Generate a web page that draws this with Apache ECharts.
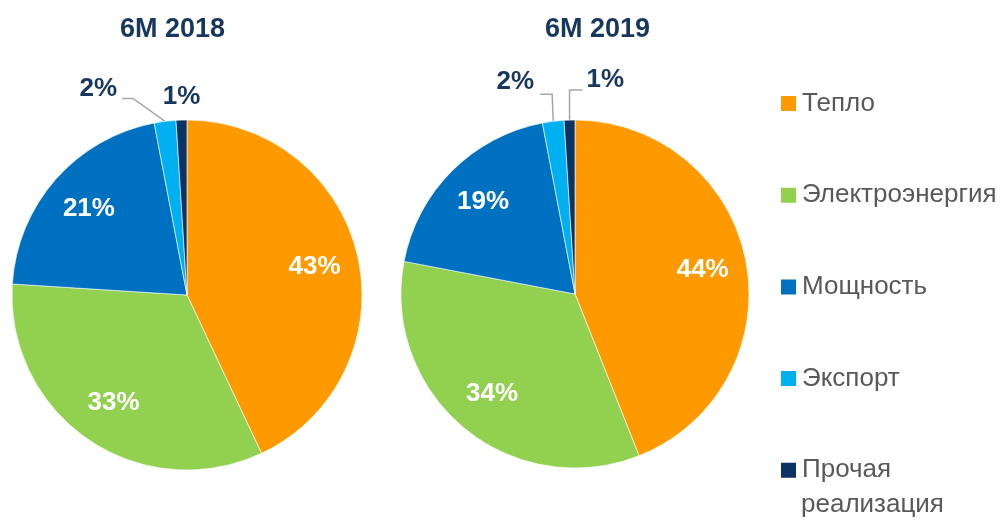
<!DOCTYPE html>
<html>
<head>
<meta charset="utf-8">
<script src="https://cdn.jsdelivr.net/npm/echarts@6/dist/echarts.min.js"></script>
<style>
html, body { margin: 0; padding: 0; background: #fff; }
#chart { width: 1004px; height: 523px; }
</style>
</head>
<body>
<div id="chart"></div>
<script>
const categories = ['Тепло', 'Электроэнергия', 'Мощность', 'Экспорт', 'Прочая\nреализация'];
const periods = ['6M 2018', '6M 2019'];
const share2018 = [43, 33, 21, 2, 1];
const share2019 = [44, 34, 19, 2, 1];

const colors = ['#FF9900', '#92D050', '#0070C0', '#00B0F0', '#0B3366'];
const NAVY = '#17375E';
const GREY = '#595959';
const FONT = "'Liberation Sans', Arial, sans-serif";

// pie geometry
const pies = [
  { center: [187, 295], radius: 175, title: 120 },
  { center: [575, 294], radius: 174, title: 545 }
];

// legend geometry
const LEG_LEFT = 779, LEG_TOP = 86, LEG_LINE = 35, LEG_GAP = 56.7;

// tiny slices: label offsets relative to the slice's edge point
const smallLabels = [
  {
    3: { line: [[-32, -23], [-43, -23]], text: [-48, -33], align: 'right' },
    4: { line: null, text: [0, -23], align: 'center' }
  },
  {
    3: { line: [[-1, -27], [-13, -27]], text: [-19, -40], align: 'right' },
    4: { line: [[0, -30], [13, -30]], text: [17, -40], align: 'left' }
  }
];

const labelFont = { fontSize: 26, fontWeight: 'bold', fontFamily: FONT };

function mainSeries (k, values) {
  const p = pies[k];
  return {
    type: 'pie',
    center: p.center,
    radius: p.radius,
    startAngle: 90,
    clockwise: true,
    avoidLabelOverlap: false,
    silent: true,
    itemStyle: { borderColor: '#fff', borderWidth: 0.6 },
    label: Object.assign({ position: 'outside', color: NAVY, formatter: '{c}%' }, labelFont),
    labelLine: { length: 20, length2: 10, lineStyle: { color: '#A6A6A6', width: 1.5 } },
    labelLayout: function (params) {
      const cfg = smallLabels[k][params.dataIndex];
      if (!cfg) return {};
      const o = params.labelLinePoints
        ? params.labelLinePoints[0]
        : [params.rect.x + params.rect.width / 2, params.rect.y];
      const res = {
        x: o[0] + cfg.text[0],
        y: o[1] + cfg.text[1],
        align: cfg.align,
        verticalAlign: 'middle'
      };
      if (cfg.line) {
        res.labelLinePoints = [
          [o[0], o[1]],
          [o[0] + cfg.line[0][0], o[1] + cfg.line[0][1]],
          [o[0] + cfg.line[1][0], o[1] + cfg.line[1][1]]
        ];
      }
      return res;
    },
    data: values.map((v, i) => ({
      name: categories[i],
      value: v,
      itemStyle: { color: colors[i] },
      label: { show: v < 5 },
      labelLine: { show: v < 5 && !!(smallLabels[k][i] && smallLabels[k][i].line) }
    }))
  };
}

// transparent ring on top, only to carry the inside labels further out
function labelRing (k, values) {
  const p = pies[k];
  return {
    type: 'pie',
    center: p.center,
    radius: [p.radius * 0.46, p.radius],
    startAngle: 90,
    clockwise: true,
    avoidLabelOverlap: false,
    silent: true,
    itemStyle: { color: 'rgba(0,0,0,0)' },
    label: Object.assign({ position: 'inside', color: '#fff', formatter: '{c}%' }, labelFont),
    labelLine: { show: false },
    data: values.map((v, i) => ({
      name: categories[i],
      value: v,
      label: { show: v >= 5 }
    }))
  };
}

// the legend shows only the first line of a wrapped name; the rest goes below
const lastIdx = categories.length - 1;
const wrapTail = categories[lastIdx].split('\n').slice(1).join('\n');

const chart = echarts.init(document.getElementById('chart'));
chart.setOption({
  animation: false,
  backgroundColor: '#fff',
  color: colors,
  title: periods.map((t, k) => ({
    text: t,
    left: pies[k].title,
    top: 16,
    padding: 0,
    textStyle: { fontSize: 27, fontWeight: 'bold', color: NAVY, fontFamily: FONT }
  })),
  legend: {
    orient: 'vertical',
    left: LEG_LEFT,
    top: LEG_TOP,
    padding: 0,
    itemWidth: 17,
    itemHeight: 17,
    itemGap: LEG_GAP,
    icon: 'rect',
    selectedMode: false,
    data: categories,
    formatter: name => name.split('\n')[0],
    textStyle: { fontSize: 26, color: GREY, fontFamily: FONT, lineHeight: LEG_LINE }
  },
  graphic: [{
    type: 'text',
    silent: true,
    x: LEG_LEFT + 22,
    y: LEG_TOP + lastIdx * (LEG_LINE + LEG_GAP) + LEG_LINE * 1.5,
    style: {
      text: wrapTail,
      fontSize: 26,
      fontFamily: FONT,
      fill: GREY,
      verticalAlign: 'middle'
    }
  }],
  series: [
    mainSeries(0, share2018),
    mainSeries(1, share2019),
    labelRing(0, share2018),
    labelRing(1, share2019)
  ]
});
</script>
</body>
</html>
